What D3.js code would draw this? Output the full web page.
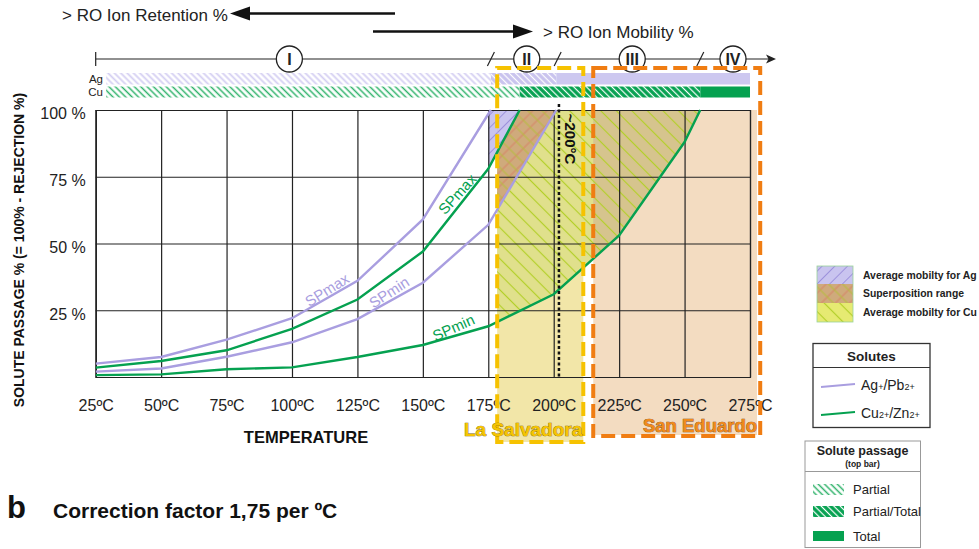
<!DOCTYPE html>
<html><head><meta charset="utf-8">
<script src="https://d3js.org/d3.v7.min.js"></script>
<style>
html,body{margin:0;padding:0;background:#fff;}
svg{display:block;font-family:"Liberation Sans",Arial,sans-serif;}
</style></head>
<body><svg id="chart" width="979" height="549"></svg>
<script>
// ---------------- DATA ----------------
const xTicks = [25, 50, 75, 100, 125, 150, 175, 200, 225, 250, 275];
const yTicks = [0, 25, 50, 75, 100];

// Solute passage curves (temperature °C, passage %)
const agMaxT = [25, 50, 75, 100, 125, 150, 175, 176];
const agMaxV = [5, 7.5, 14, 22, 36, 59, 98.5, 100];
const agMinT = [25, 50, 75, 100, 125, 150, 175, 201];
const agMinV = [2, 3.2, 7.6, 13, 21.7, 35.3, 57, 100];
const cuMaxT = [25, 50, 75, 100, 125, 150, 175, 187];
const cuMaxV = [3.5, 6, 10, 18, 29, 47, 78, 100];
const cuMinT = [25, 50, 75, 100, 125, 150, 175, 200, 225, 250, 256];
const cuMinV = [0.7, 1, 2.9, 3.6, 7.5, 12, 19, 31, 53, 88, 100];

// Top bar: solute passage stops (°C) -> Partial, Partial/Total, Total
const passageTypes = ["Partial", "Partial/Total", "Total"];
const agBarStops = [29, 176, 201, 275];
const cuBarStops = [29, 187, 256, 275];

// Phases on the top timeline
const phaseLabels = ["I", "II", "III", "IV"];
const phaseCenters = [99, 189.7, 230, 268.5];
const phaseBreaks = [176, 201.5, 256];

// Sites (temperature ranges)
const salvadoraRange = [178.4, 211.3];
const sanEduardoRange = [215.1, 278.9];
const refTemp = 202;

const regionLegend = ["Average mobilty for Ag", "Superposition range", "Average mobilty for Cu"];

// ---------------- SETUP ----------------
const svg = d3.select("#chart");
const x = d3.scaleLinear().domain([25, 275]).range([95.7, 750]);
const y = d3.scaleLinear().domain([0, 100]).range([377, 110]);
const zip = (t, v) => t.map((d, i) => ({t: d, v: v[i]}));
const agMax = zip(agMaxT, agMaxV), agMin = zip(agMinT, agMinV);
const cuMax = zip(cuMaxT, cuMaxV), cuMin = zip(cuMinT, cuMinV);

const LAV = "#a99ee0", GREEN = "#05a150";
const defs = svg.append("defs");
function hatch(id, size, angle, color, width, bg, op) {
  const p = defs.append("pattern").attr("id", id).attr("patternUnits", "userSpaceOnUse")
    .attr("width", size).attr("height", size).attr("patternTransform", `rotate(${angle})`);
  if (bg) p.append("rect").attr("width", size).attr("height", size).attr("fill", bg);
  p.append("line").attr("x1", size / 2).attr("x2", size / 2).attr("y1", 0).attr("y2", size)
    .attr("stroke", color).attr("stroke-width", width).attr("stroke-opacity", op == null ? 1 : op);
}
// regions
hatch("hCu", 11, -45, "#b3cf2a", 1.2);
hatch("hAg", 9, 45, "#9d92dc", 1);
hatch("hSupR", 10, 45, "#d8765e", 1, null, 0.75);
hatch("hSupO", 10, -45, "#b5bd3c", 1);
// bars
hatch("bAgP", 4.5, -45, "#d4cff2", 1.8);
hatch("bAgPT", 4.5, -45, "#ffffff", 1.2, "#c9c3ee");
hatch("bCuP", 4.5, -45, "#2fb26a", 1.5);
hatch("bCuPT", 4.5, -45, "#ffffff", 1.2, GREEN);

function clipRect(id, x0, x1, y0, y1) {
  defs.append("clipPath").attr("id", id).append("rect")
    .attr("x", x0).attr("y", y0).attr("width", x1 - x0).attr("height", y1 - y0);
}
clipRect("cSalv", x(salvadoraRange[0]), x(275), y(100), y(0));
clipRect("cStrip", x(175), x(salvadoraRange[0]), y(100), y(0));
clipRect("cSE", x(sanEduardoRange[0]), x(275), y(100), y(0));
clipRect("cPlot", x(25), x(275), y(100) - 1, y(0) + 1);

const areaTop = d3.area().x(d => x(d.t)).y0(y(100)).y1(d => y(d.v));
const line = d3.line().x(d => x(d.t)).y(d => y(d.v));

// ---------------- BACKGROUNDS ----------------
svg.append("rect").attr("x", x(salvadoraRange[0])).attr("y", y(100))
  .attr("width", x(salvadoraRange[1]) - x(salvadoraRange[0])).attr("height", 442 - y(100)).attr("fill", "#f2e6a8");
svg.append("rect").attr("x", x(sanEduardoRange[0])).attr("y", y(100))
  .attr("width", x(277.7) - x(sanEduardoRange[0])).attr("height", 435 - y(100)).attr("fill", "#f3dcc1");

// ---------------- REGIONS ----------------
const gS = svg.append("g").attr("clip-path", "url(#cSalv)");
gS.append("path").attr("d", areaTop(cuMin)).attr("fill", "#e0e08c");
gS.append("g").attr("clip-path", "url(#cSE)").append("path").attr("d", areaTop(cuMin)).attr("fill", "#d6c48e");
gS.append("path").attr("d", areaTop(cuMin)).attr("fill", "url(#hCu)");
// superposition
gS.append("path").attr("d", areaTop(agMin)).attr("fill", "#cfaa7c");
gS.append("path").attr("d", areaTop(agMin)).attr("fill", "url(#hSupR)");
gS.append("path").attr("d", areaTop(agMin)).attr("fill", "url(#hSupO)");
// Ag only (above Cu SPmax)
gS.append("path").attr("d", areaTop(cuMax)).attr("fill", "#c9c4ef");
gS.append("path").attr("d", areaTop(cuMax)).attr("fill", "url(#hAg)");
const gStrip = svg.append("g").attr("clip-path", "url(#cStrip)");
gStrip.append("path").attr("d", areaTop(cuMax)).attr("fill", "#c9c4ef");
gStrip.append("path").attr("d", areaTop(cuMax)).attr("fill", "url(#hAg)");

// ---------------- AXES / GRID ----------------
const gx = svg.append("g").attr("transform", `translate(0,${y(0)})`)
  .call(d3.axisBottom(x).tickValues(xTicks).tickSize(-(y(0) - y(100))).tickPadding(23).tickFormat(d => d + "ºC"));
const gy = svg.append("g").attr("transform", `translate(${x(25)},0)`)
  .call(d3.axisLeft(y).tickValues(yTicks).tickSize(-(x(275) - x(25))).tickPadding(10).tickFormat(d => d === 0 ? "" : d + " %"));
[gx, gy].forEach(g => {
  g.select(".domain").attr("stroke", "#222").attr("stroke-width", 1.2);
  g.selectAll(".tick line").attr("stroke", "#222").attr("stroke-width", 1.2);
  g.selectAll(".tick text").attr("fill", "#222").attr("font-size", 16).attr("font-family", "Liberation Sans, Arial, sans-serif");
});
gy.selectAll(".tick text").attr("dy", "0.55em");

// ---------------- CURVES ----------------
const gc = svg.append("g").attr("clip-path", "url(#cPlot)");
[[agMax, LAV], [agMin, LAV], [cuMax, GREEN], [cuMin, GREEN]].forEach(([d, c]) => {
  gc.append("path").attr("d", line(d)).attr("fill", "none").attr("stroke", c).attr("stroke-width", 2.4);
});

// curve labels
const curveLabels = [
  {text: "SPmax", t: 113.4, v: 32.6, a: -32, c: LAV},
  {text: "SPmin", t: 137.1, v: 31.7, a: -33, c: LAV},
  {text: "SPmax", t: 163.2, v: 68.5, a: -48, c: GREEN},
  {text: "SPmin", t: 161.7, v: 18.5, a: -24, c: GREEN}
];
svg.selectAll("text.cl").data(curveLabels).join("text").attr("class", "cl")
  .attr("transform", d => `translate(${x(d.t)},${y(d.v)}) rotate(${d.a})`)
  .attr("text-anchor", "middle").attr("dy", "0.35em").attr("font-size", 15).attr("fill", d => d.c).text(d => d.text);

// ~200 °C dotted line
svg.append("line").attr("x1", x(refTemp)).attr("x2", x(refTemp)).attr("y1", 104).attr("y2", y(0))
  .attr("stroke", "#111").attr("stroke-width", 2.5).attr("stroke-dasharray", "3,2.5");
svg.append("text").attr("transform", `translate(${x(refTemp) + 11},139) rotate(90)`)
  .attr("text-anchor", "middle").attr("dy", "0.35em").attr("font-size", 15).attr("font-weight", "bold").attr("fill", "#111").text("~200°C");

// ---------------- TOP BARS ----------------
const agFills = ["url(#bAgP)", "url(#bAgPT)", "#cdc8f0"];
const cuFills = ["url(#bCuP)", "url(#bCuPT)", GREEN];
function bar(stops, fills, y0, h) {
  for (let i = 0; i < stops.length - 1; i++) {
    svg.append("rect").attr("x", x(stops[i])).attr("y", y0).attr("width", x(stops[i + 1]) - x(stops[i])).attr("height", h).attr("fill", fills[i]);
  }
}
bar(agBarStops, agFills, 73, 11.5);
bar(cuBarStops, cuFills, 86.5, 11);
svg.append("text").attr("x", 103).attr("y", 83).attr("text-anchor", "end").attr("font-size", 11.5).attr("fill", "#222").text("Ag");
svg.append("text").attr("x", 103).attr("y", 96).attr("text-anchor", "end").attr("font-size", 11.5).attr("fill", "#222").text("Cu");

// ---------------- TIMELINE ----------------
const tl = svg.append("g");
tl.append("line").attr("x1", x(25)).attr("x2", 770).attr("y1", 59).attr("y2", 59).attr("stroke", "#222").attr("stroke-width", 1.2);
tl.append("line").attr("x1", x(25)).attr("x2", x(25)).attr("y1", 52).attr("y2", 66).attr("stroke", "#222").attr("stroke-width", 1.2);
tl.append("path").attr("d", "M776,59 L766,54.5 L768.5,59 L766,63.5 Z").attr("fill", "#222");
phaseBreaks.forEach(t => tl.append("line").attr("x1", x(t) - 3.5).attr("x2", x(t) + 3.5).attr("y1", 66).attr("y2", 52).attr("stroke", "#222").attr("stroke-width", 1.2));
phaseCenters.forEach((t, i) => {
  tl.append("circle").attr("cx", x(t)).attr("cy", 59).attr("r", 13).attr("fill", "#fff").attr("stroke", "#222").attr("stroke-width", 1.3);
  tl.append("text").attr("x", x(t)).attr("y", 59).attr("dy", "0.36em").attr("text-anchor", "middle")
    .attr("font-size", 16).attr("font-weight", "bold").attr("fill", "#222").text(phaseLabels[i]);
});

// ---------------- ARROWS & TITLES ----------------
svg.append("text").attr("x", 62).attr("y", 21).attr("font-size", 17).attr("fill", "#222").text("> RO Ion Retention %");
svg.append("line").attr("x1", 395).attr("x2", 246).attr("y1", 13.5).attr("y2", 13.5).attr("stroke", "#111").attr("stroke-width", 2.6);
svg.append("path").attr("d", "M230,13.5 L250,6.5 L250,20.5 Z").attr("fill", "#111");
svg.append("text").attr("x", 543).attr("y", 38).attr("font-size", 17).attr("fill", "#222").text("> RO Ion Mobility %");
svg.append("line").attr("x1", 373).attr("x2", 518).attr("y1", 31.5).attr("y2", 31.5).attr("stroke", "#111").attr("stroke-width", 2.6);
svg.append("path").attr("d", "M533,31.5 L513,24.5 L513,38.5 Z").attr("fill", "#111");

svg.append("text").attr("transform", "translate(24,250) rotate(-90)").attr("text-anchor", "middle")
  .attr("font-size", 14).attr("font-weight", "bold").attr("fill", "#111").text("SOLUTE PASSAGE % (= 100% - REJECTION %)");
svg.append("text").attr("x", 306).attr("y", 443).attr("text-anchor", "middle")
  .attr("font-size", 16.5).attr("font-weight", "bold").attr("fill", "#111").text("TEMPERATURE");
svg.append("text").attr("x", 7).attr("y", 518).attr("font-size", 31).attr("font-weight", "bold").attr("fill", "#111").text("b");
svg.append("text").attr("x", 53).attr("y", 518).attr("font-size", 21).attr("font-weight", "bold").attr("fill", "#111").text("Correction factor 1,75 per ºC");

// ---------------- SITE BOXES ----------------
function siteBox(r, top, bottom, color) {
  const x0 = x(r[0]), x1 = x(r[1]);
  svg.append("rect").attr("x", x0).attr("y", top).attr("width", x1 - x0).attr("height", bottom - top)
    .attr("fill", "none").attr("stroke", color).attr("stroke-width", 4).attr("stroke-dasharray", "14,6");
}
siteBox(salvadoraRange, 68, 442, "#f6c200");
siteBox(sanEduardoRange, 68, 436, "#f07d12");
svg.append("text").attr("x", x(salvadoraRange[1]) - 1).attr("y", 436).attr("text-anchor", "end")
  .attr("font-size", 19).attr("font-weight", "bold").attr("fill", "#f6c400")
  .attr("stroke", "#7d6400").attr("stroke-width", 0.7).attr("paint-order", "stroke").text("La Salvadora");
svg.append("text").attr("x", x(277.7)).attr("y", 432).attr("text-anchor", "end")
  .attr("font-size", 18.5).attr("font-weight", "bold").attr("fill", "#f08a1a")
  .attr("stroke", "#7a4510").attr("stroke-width", 0.7).attr("paint-order", "stroke").text("San Eduardo");

// ---------------- LEGENDS ----------------
// region legend
const lg1 = svg.append("g");
const swY = [266, 284, 303, 322];
const swFills = [["#c9c4ef", "url(#hAg)"], ["#cfaa7c", "url(#hSupR)", "url(#hSupO)"], ["#e6ea72", "url(#hCu)"]];
regionLegend.forEach((t, i) => {
  swFills[i].forEach(f => lg1.append("rect").attr("x", 817).attr("y", swY[i]).attr("width", 36).attr("height", swY[i + 1] - swY[i]).attr("fill", f));
  lg1.append("text").attr("x", 863).attr("y", (swY[i] + swY[i + 1]) / 2).attr("dy", "0.35em")
    .attr("font-size", 10.4).attr("font-weight", "bold").attr("fill", "#222").text(t);
});
lg1.append("rect").attr("x", 817).attr("y", 266).attr("width", 36).attr("height", 56).attr("fill", "none").attr("stroke", "#9ad39a").attr("stroke-width", 0.8);

// solutes legend
const lg2 = svg.append("g");
lg2.append("rect").attr("x", 813).attr("y", 343.5).attr("width", 117).attr("height", 84).attr("fill", "#fff").attr("stroke", "#333").attr("stroke-width", 1.3);
lg2.append("line").attr("x1", 813).attr("x2", 930).attr("y1", 367.5).attr("y2", 367.5).attr("stroke", "#333").attr("stroke-width", 1);
lg2.append("text").attr("x", 871.5).attr("y", 361).attr("text-anchor", "middle").attr("font-size", 13.5).attr("font-weight", "bold").attr("fill", "#222").text("Solutes");
const solutes = [{c: LAV, y: 385, parts: [["Ag", 14], ["+", 9], ["/Pb", 14], ["2+", 9]]},
                 {c: GREEN, y: 413, parts: [["Cu", 14], ["2+", 9], ["/Zn", 14], ["2+", 9]]}];
solutes.forEach(s => {
  lg2.append("line").attr("x1", 821).attr("x2", 855).attr("y1", s.y + 2).attr("y2", s.y - 1).attr("stroke", s.c).attr("stroke-width", 2);
  const t = lg2.append("text").attr("x", 861).attr("y", s.y + 5).attr("fill", "#222");
  s.parts.forEach(p => t.append("tspan").attr("font-size", p[1]).text(p[0]));
});

// solute passage legend
const lg3 = svg.append("g");
lg3.append("rect").attr("x", 805).attr("y", 441).attr("width", 115.5).attr("height", 106.5).attr("fill", "#fff").attr("stroke", "#999").attr("stroke-width", 1);
lg3.append("line").attr("x1", 805).attr("x2", 920.5).attr("y1", 471.5).attr("y2", 471.5).attr("stroke", "#999").attr("stroke-width", 1);
lg3.append("text").attr("x", 862.5).attr("y", 455).attr("text-anchor", "middle").attr("font-size", 12.5).attr("font-weight", "bold").attr("fill", "#222").text("Solute passage");
lg3.append("text").attr("x", 862.5).attr("y", 467).attr("text-anchor", "middle").attr("font-size", 8.5).attr("font-weight", "bold").attr("fill", "#222").text("(top bar)");
const passY = [484, 506, 531];
passageTypes.forEach((t, i) => {
  lg3.append("rect").attr("x", 813).attr("y", passY[i]).attr("width", 31).attr("height", i === 2 ? 10 : 11).attr("fill", cuFills[i]);
  lg3.append("text").attr("x", 853).attr("y", passY[i] + 5.5).attr("dy", "0.35em").attr("font-size", 13).attr("fill", "#222").text(t);
});
</script></body></html>
